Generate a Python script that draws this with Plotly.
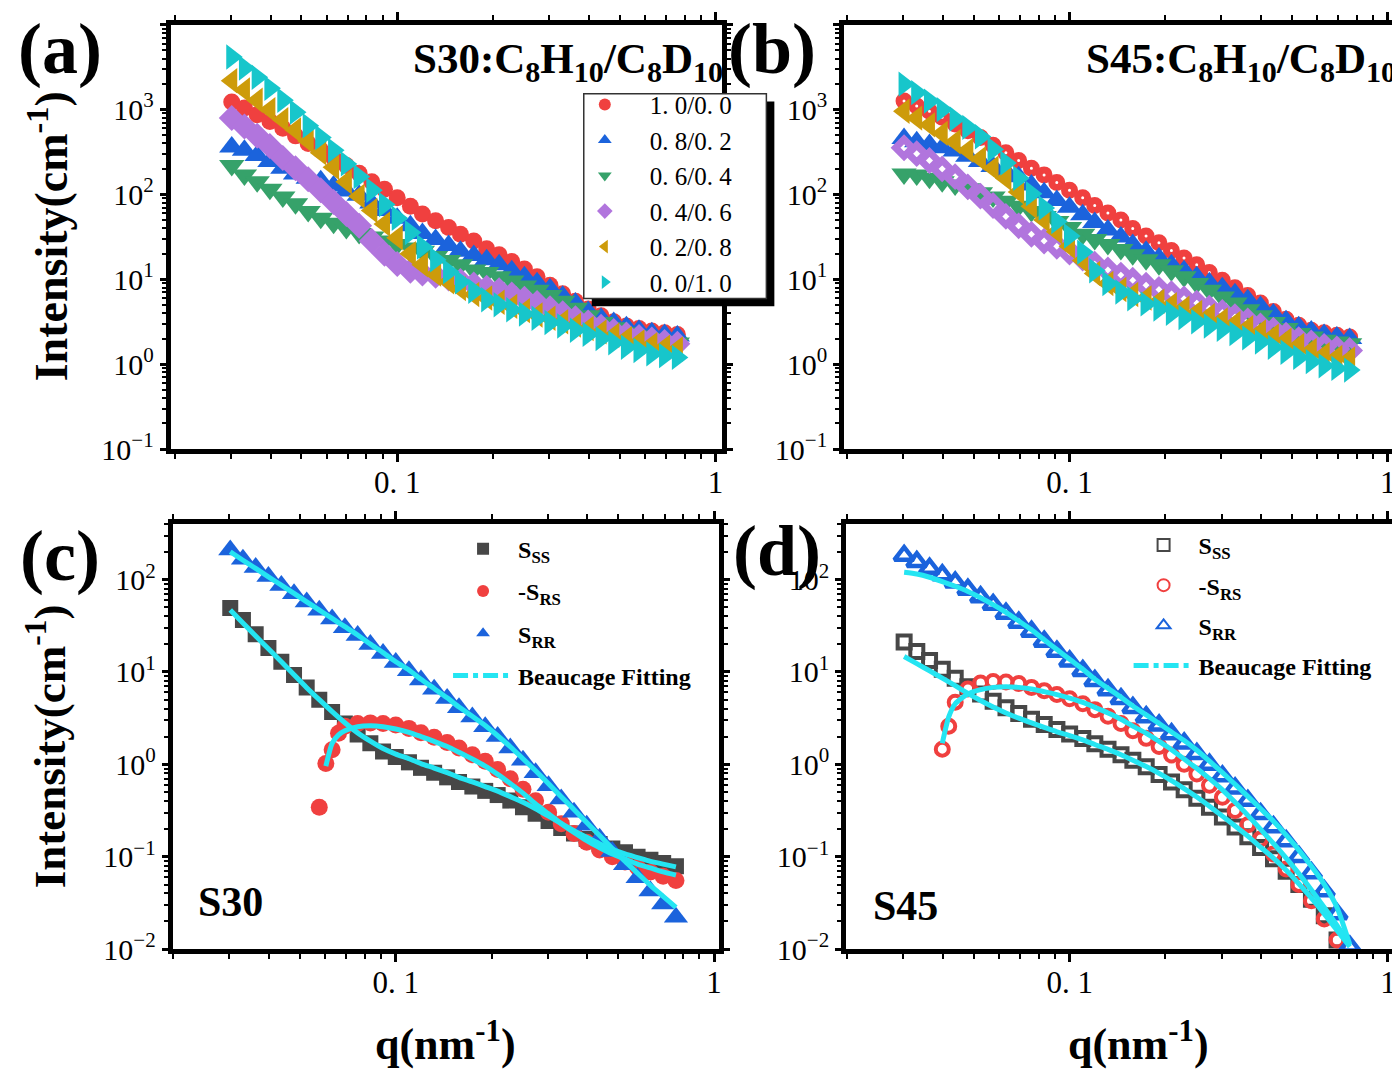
import plotly.graph_objects as go

# ===============================
# 0. DATA
# ===============================
# common q grid, nm^-1
Q = [0.0302, 0.0331, 0.0363, 0.0398, 0.0437, 0.0479, 0.0525, 0.0575, 0.0631, 0.0692,
     0.0759, 0.0832, 0.0912, 0.100, 0.110, 0.120, 0.132, 0.145, 0.158, 0.174,
     0.191, 0.209, 0.229, 0.251, 0.275, 0.302, 0.331, 0.363, 0.398, 0.437,
     0.479, 0.525, 0.575, 0.631, 0.692, 0.759]

RATIOS = ["1. 0/0. 0", "0. 8/0. 2", "0. 6/0. 4", "0. 4/0. 6", "0. 2/0. 8", "0. 0/1. 0"]

# (a) S30, intensity (cm^-1)
A_10_00 = [1230, 1047, 871, 724, 603, 490, 398, 331, 269, 219, 178, 141, 115, 91.2, 72.4, 58.9, 49.0, 40.7,
           33.9, 28.2, 22.9, 19.5, 16.2, 13.2, 10.7, 8.51, 6.76, 5.50, 4.47, 3.72, 3.16, 2.82, 2.63, 2.45, 2.34, 2.24]
A_08_02 = [363, 331, 288, 245, 204, 174, 155, 145, 126, 110, 97.7, 79.4, 64.6, 52.5, 42.7, 34.7, 29.5, 25.1,
           21.4, 19.1, 17.0, 14.8, 12.6, 10.7, 9.12, 7.76, 6.31, 5.25, 4.17, 3.47, 3.09, 2.75, 2.51, 2.34, 2.24, 2.14]
A_06_04 = [219, 170, 141, 115, 93.3, 77.6, 63.1, 52.5, 45.7, 39.8, 34.7, 31.6, 28.2, 25.7, 23.4, 21.4, 18.6, 16.6,
           14.8, 12.9, 12.0, 10.7, 9.55, 8.32, 7.41, 6.46, 5.50, 4.57, 3.72, 3.09, 2.69, 2.34, 2.14, 2.00, 1.86, 1.78]
A_04_06 = [794, 631, 490, 372, 269, 204, 151, 112, 81.3, 58.9, 42.7, 28.2, 20.0, 15.1, 12.6, 11.7, 11.0, 10.2,
           9.55, 8.71, 7.94, 7.41, 6.61, 5.89, 5.25, 4.57, 3.98, 3.47, 3.09, 2.75, 2.45, 2.24, 2.09, 1.95, 1.82, 1.74]
A_02_08 = [2190, 1700, 1290, 1000, 759, 575, 427, 309, 209, 141, 95.5, 64.6, 44.7, 30.9, 20.0, 14.8, 11.5, 9.33,
           7.76, 6.61, 6.03, 5.37, 4.79, 4.27, 3.80, 3.47, 3.16, 2.88, 2.63, 2.40, 2.19, 2.00, 1.82, 1.70, 1.58, 1.51]
A_00_10 = [4170, 3090, 2400, 1780, 1290, 933, 646, 468, 331, 229, 162, 112, 75.9, 52.5, 35.5, 24.0, 17.0, 12.3,
           9.33, 7.24, 5.75, 5.01, 4.37, 3.89, 3.47, 3.09, 2.82, 2.51, 2.24, 2.00, 1.78, 1.58, 1.45, 1.32, 1.26, 1.20]

# (b) S45
B_10_00 = [1260, 1100, 955, 813, 676, 562, 468, 380, 309, 251, 204, 170, 138, 112, 91.2, 74.1, 60.3, 50.1,
           39.8, 32.4, 26.9, 21.9, 17.8, 14.8, 12.0, 9.77, 7.94, 6.46, 5.25, 4.17, 3.39, 2.88, 2.51, 2.34, 2.19, 2.09]
B_08_02 = [457, 417, 389, 355, 324, 282, 245, 214, 186, 162, 129, 105, 85.1, 70.8, 57.5, 46.8, 38.0, 31.6,
           25.7, 21.4, 17.8, 14.8, 12.6, 10.7, 9.12, 7.94, 6.76, 5.75, 4.79, 3.89, 3.24, 2.75, 2.45, 2.24, 2.09, 2.00]
B_06_04 = [174, 170, 155, 141, 129, 117, 105, 93.3, 83.2, 72.4, 63.1, 55.0, 47.9, 40.7, 33.9, 29.5, 25.7, 22.4,
           19.5, 17.0, 14.8, 12.6, 10.7, 8.91, 7.41, 6.17, 5.25, 4.37, 3.72, 3.09, 2.63, 2.29, 2.09, 1.91, 1.82, 1.74]
B_04_06 = [355, 302, 251, 200, 162, 123, 95.5, 74.1, 55.0, 42.7, 33.9, 28.2, 24.5, 20.9, 17.8, 15.1, 12.9, 11.2,
           9.77, 8.51, 7.59, 6.76, 5.89, 5.25, 4.57, 4.07, 3.63, 3.24, 2.82, 2.51, 2.19, 1.95, 1.78, 1.62, 1.51, 1.45]
B_02_08 = [955, 794, 661, 525, 417, 331, 263, 204, 155, 107, 72.4, 50.1, 36.3, 24.5, 16.6, 11.7, 8.91, 7.59,
           6.61, 6.03, 5.50, 5.01, 4.57, 4.07, 3.72, 3.31, 3.02, 2.69, 2.40, 2.14, 1.91, 1.66, 1.45, 1.29, 1.20, 1.15]
B_00_10 = [1995, 1585, 1259, 1000, 776, 617, 479, 339, 234, 155, 102, 69.2, 47.9, 32.4, 20.9, 12.6, 8.91, 7.08,
           5.89, 5.13, 4.47, 3.98, 3.55, 3.16, 2.82, 2.57, 2.29, 2.04, 1.82, 1.58, 1.38, 1.20, 1.07, 0.955, 0.891, 0.851]

# (c) S30 partial structure factors + Beaucage fits
C_SS = [49.4, 36.5, 25.6, 18.2, 12.9, 9.29, 6.81, 4.99, 3.69, 2.77, 2.11, 1.69, 1.38, 1.20, 1.05, 0.916, 0.811, 0.723,
        0.644, 0.575, 0.516, 0.465, 0.405, 0.344, 0.291, 0.243, 0.205, 0.178, 0.155, 0.137, 0.123, 0.112, 0.100,
        0.0927, 0.0853, 0.0787]
C_RR = [209, 166, 135, 108, 86.3, 70.3, 57.3, 46.7, 37.4, 30.2, 24.8, 19.8, 15.8, 12.7, 10.3, 8.17, 6.49, 5.15,
        4.10, 3.26, 2.55, 2.00, 1.50, 1.11, 0.811, 0.585, 0.421, 0.303, 0.219, 0.158, 0.114, 0.0818, 0.0590,
        0.0426, 0.0307, 0.0221]
C_RS_Q = [0.0575, 0.0603, 0.0631, 0.0661, 0.0692, 0.0759, 0.0832, 0.0912, 0.100, 0.110, 0.120, 0.132, 0.145,
          0.158, 0.174, 0.191, 0.209, 0.229, 0.251, 0.275, 0.302, 0.331, 0.363, 0.398, 0.437, 0.479, 0.525,
          0.575, 0.631, 0.692, 0.759]
C_RS = [0.343, 1.02, 1.44, 2.17, 2.59, 2.77, 2.81, 2.77, 2.66, 2.45, 2.20, 1.96, 1.72, 1.50, 1.27, 1.08, 0.879,
        0.700, 0.538, 0.404, 0.303, 0.228, 0.178, 0.143, 0.118, 0.100, 0.0875, 0.0767, 0.0684, 0.0615, 0.0553]
C_SS_FIT = [46.8, 33.9, 24.5, 17.8, 12.9, 9.33, 6.76, 5.01, 3.72, 2.82, 2.19, 1.78, 1.48, 1.29, 1.15, 1.02, 0.912,
            0.813, 0.724, 0.646, 0.575, 0.513, 0.447, 0.389, 0.331, 0.275, 0.229, 0.191, 0.162, 0.138, 0.120,
            0.107, 0.0977, 0.0891, 0.0832, 0.0776]
C_RR_FIT = [200, 162, 132, 107, 87.1, 70.8, 57.5, 46.8, 38.0, 30.9, 25.1, 20.0, 16.2, 12.9, 10.5, 8.32, 6.61, 5.25,
            4.17, 3.31, 2.63, 2.04, 1.55, 1.15, 0.851, 0.617, 0.447, 0.324, 0.234, 0.170, 0.123, 0.0891, 0.0661,
            0.0490, 0.0372, 0.0282]
C_RS_FIT_Q = C_RS_Q[1:]
C_RS_FIT = [0.955, 1.69, 2.08, 2.31, 2.55, 2.61, 2.55, 2.41, 2.22, 2.00, 1.77, 1.56, 1.35, 1.14, 0.955, 0.778,
            0.619, 0.488, 0.372, 0.291, 0.228, 0.183, 0.149, 0.125, 0.107, 0.0942, 0.0832, 0.0755, 0.0684, 0.0631]

# (d) S45 partial structure factors + Beaucage fits
D_SS = [21.1, 16.7, 13.3, 10.7, 8.57, 6.92, 5.78, 4.83, 4.10, 3.54, 3.08, 2.70, 2.39, 2.13, 1.90, 1.67, 1.46, 1.27,
        1.11, 0.940, 0.778, 0.644, 0.530, 0.429, 0.344, 0.269, 0.210, 0.164, 0.126, 0.0948, 0.0695, 0.0501,
        0.0347, 0.0230, 0.0125, 0.0076]
D_RR = [182, 156, 132, 112, 93.5, 78.2, 64.7, 53.6, 43.0, 34.4, 27.4, 21.4, 16.7, 13.1, 10.3, 8.02, 6.38, 5.12,
        4.10, 3.26, 2.65, 2.13, 1.69, 1.30, 0.995, 0.746, 0.552, 0.405, 0.291, 0.210, 0.148, 0.100, 0.0667,
        0.0426, 0.0240, 0.0107]
D_RS_Q = [0.0398, 0.0417, 0.0437, 0.0479, 0.0525, 0.0575, 0.0631, 0.0692, 0.0759, 0.0832, 0.0912, 0.100, 0.110,
          0.120, 0.132, 0.145, 0.158, 0.174, 0.191, 0.209, 0.229, 0.251, 0.275, 0.302, 0.331, 0.363, 0.398,
          0.437, 0.479, 0.525, 0.575, 0.631, 0.692, 0.759]
D_RS = [1.46, 2.59, 4.71, 6.55, 7.6, 7.9, 7.8, 7.5, 6.81, 6.28, 5.69, 5.12, 4.53, 3.91, 3.31, 2.77, 2.31, 1.91,
        1.56, 1.26, 1.00, 0.785, 0.594, 0.439, 0.316, 0.222, 0.155, 0.107, 0.0736, 0.0501, 0.0333, 0.0212,
        0.0125, 0.0070]
D_SS_FIT = [14.7, 12.3, 10.3, 8.57, 7.10, 5.87, 4.91, 4.17, 3.60, 3.16, 2.81, 2.51, 2.25, 2.05, 1.84, 1.64, 1.45,
            1.27, 1.11, 0.946, 0.798, 0.667, 0.547, 0.443, 0.352, 0.275, 0.215, 0.167, 0.127, 0.0964, 0.0713,
            0.0509, 0.0356, 0.0240, 0.0159, 0.0106]
D_RR_FIT = [120, 115, 106, 95.1, 84.7, 74.5, 63.7, 53.6, 44.1, 35.6, 28.6, 22.3, 17.5, 13.7, 10.7, 8.36, 6.65,
            5.33, 4.28, 3.43, 2.77, 2.24, 1.81, 1.42, 1.08, 0.811, 0.608, 0.450, 0.330, 0.242, 0.171, 0.118,
            0.0787, 0.0501, 0.0282, 0.0112]
D_RS_FIT = [1.69, 3.26, 4.53, 5.78, 6.43, 6.81, 6.92, 6.81, 6.55, 6.12, 5.69, 5.20, 4.68, 4.14, 3.60, 3.08, 2.59,
            2.17, 1.77, 1.44, 1.14, 0.902, 0.700, 0.530, 0.388, 0.280, 0.198, 0.139, 0.0964, 0.0656, 0.0437,
            0.0282, 0.0180, 0.0110]

# ===============================
# 1. STYLE
# ===============================
W, H = 1400, 1088
FONT = "Liberation Serif"
RED, BLUE, GREEN, PURPLE, GOLD, CYAN = "#F0403F", "#1B63DC", "#36A26A", "#B175DD", "#CD9B0A", "#17C6CB"
GRAY, FIT = "#474747", "#24E5F2"

COLORS = [RED, BLUE, GREEN, PURPLE, GOLD, CYAN]
SYMBOLS = ["circle", "triangle-up", "triangle-down", "diamond", "triangle-left", "triangle-right"]
SIZES = [17, 22, 22, 20, 22, 22]


def px(x):
    return x / W


def py(y):
    return 1 - y / H


X_MINOR = [m * 10.0 ** e for e in (-2, -1) for m in range(2, 10)]


def sup(e):
    return "10<sup>" + str(e).replace("-", "\u2212") + "</sup>"


def x_axis(dom, rng, anchor):
    return dict(type="log", domain=dom, range=rng, anchor=anchor,
                showline=True, linecolor="black", linewidth=5, mirror="ticks",
                ticks="outside", ticklen=8, tickwidth=3, tickcolor="black",
                tickmode="array", tickvals=[0.1, 1], ticktext=["0. 1", "1"],
                tickfont=dict(family=FONT, size=31, color="black"), ticklabelstandoff=-6,
                minor=dict(tickmode="array", tickvals=X_MINOR, ticks="outside",
                           ticklen=5, tickwidth=2, tickcolor="black"),
                showgrid=False, zeroline=False)


def y_axis(dom, rng, exps, anchor):
    minor = [m * 10.0 ** e for e in range(exps[0], exps[-1] + 1) for m in range(2, 10)]
    return dict(type="log", domain=dom, range=rng, anchor=anchor,
                showline=True, linecolor="black", linewidth=5, mirror="ticks",
                ticks="outside", ticklen=6, tickwidth=3, tickcolor="black",
                tickmode="array", tickvals=[10.0 ** e for e in exps],
                ticktext=[sup(e) for e in exps],
                tickfont=dict(family=FONT, size=30, color="black"), ticklabelstandoff=0,
                minor=dict(tickmode="array", tickvals=minor, ticks="outside",
                           ticklen=4, tickwidth=2, tickcolor="black"),
                showgrid=False, zeroline=False)


# ===============================
# 2. FIGURE
# ===============================
fig = go.Figure()

# (a) and (b): six H/D ratios
for i, ys in enumerate([A_10_00, A_08_02, A_06_04, A_04_06, A_02_08, A_00_10]):
    fig.add_trace(go.Scatter(
        x=Q, y=ys, mode="markers", name=RATIOS[i], xaxis="x", yaxis="y", legend="legend",
        marker=dict(symbol=SYMBOLS[i], size=SIZES[i], color=COLORS[i], line=dict(width=0))
    ))

B_OPEN = {0: "circle-open", 3: "diamond-open"}
for i, ys in enumerate([B_10_00, B_08_02, B_06_04, B_04_06, B_02_08, B_00_10]):
    if i in B_OPEN:
        mk = dict(symbol=B_OPEN[i], size=SIZES[i] - 7, color=COLORS[i], line=dict(width=7, color=COLORS[i]))
    else:
        mk = dict(symbol=SYMBOLS[i], size=SIZES[i], color=COLORS[i], line=dict(width=0))
    fig.add_trace(go.Scatter(x=Q, y=ys, mode="markers", name=RATIOS[i], xaxis="x2", yaxis="y2",
                             showlegend=False, marker=mk))


def add_partials(xa, ya, leg, ss, rs_q, rs, rr, fits, open_sym):
    if open_sym:
        specs = [(Q, ss, "S<sub>SS</sub>", "square-open", GRAY, 13, 4),
                 (rs_q, rs, "-S<sub>RS</sub>", "circle-open", RED, 13, 4),
                 (Q, rr, "S<sub>RR</sub>", "triangle-up-open", BLUE, 17, 4.5)]
    else:
        specs = [(Q, ss, "S<sub>SS</sub>", "square", GRAY, 16, 0),
                 (rs_q, rs, "-S<sub>RS</sub>", "circle", RED, 17, 0),
                 (Q, rr, "S<sub>RR</sub>", "triangle-up", BLUE, 21, 0)]
    for k, (xs, ys, nm, sym, col, sz, lw) in enumerate(specs):
        fig.add_trace(go.Scatter(
            x=xs, y=ys, mode="markers", name=nm, xaxis=xa, yaxis=ya, legend=leg, legendgroup=leg + str(k),
            marker=dict(symbol=sym, size=sz, color=col, line=dict(width=lw, color=col))
        ))
    for xs, ys in fits:
        fig.add_trace(go.Scatter(x=xs, y=ys, mode="lines", xaxis=xa, yaxis=ya, showlegend=False,
                                 line=dict(color=FIT, width=5, shape="spline", smoothing=0.6)))
    # legend entry only, the fitted curves are drawn above
    fig.add_trace(go.Scatter(x=[None], y=[None], mode="lines", name="Beaucage Fitting", xaxis=xa, yaxis=ya,
                             legend=leg, legendgroup=leg + "fit",
                             line=dict(color=FIT, width=5, dash="dashdot")))


add_partials("x3", "y3", "legend2", C_SS, C_RS_Q, C_RS, C_RR,
             [(Q, C_SS_FIT), (C_RS_FIT_Q, C_RS_FIT), (Q, C_RR_FIT)], False)
add_partials("x4", "y4", "legend3", D_SS, D_RS_Q, D_RS, D_RR,
             [(Q, D_SS_FIT), (D_RS_Q, D_RS_FIT), (Q, D_RR_FIT)], True)

# ===============================
# 3. LAYOUT
# ===============================
TOP = [py(448), py(17)]
BOT = [py(956), py(524)]

legend_font_a = dict(family=FONT, size=25, color="black")
legend_font_cd = dict(family=FONT, size=24, color="black", weight="bold")

fig.update_layout(
    width=W, height=H, autosize=False,
    margin=dict(l=0, r=0, t=0, b=0),
    paper_bgcolor="white", plot_bgcolor="white",
    xaxis=x_axis([px(163), px(716)], [-1.712, 0.022], "y"),
    yaxis=y_axis(TOP, [-1, 4], [-1, 0, 1, 2, 3, 4], "x"),
    xaxis2=x_axis([px(838), px(1391)], [-1.708, 0.026], "y2"),
    yaxis2=y_axis(TOP, [-1, 4], [-1, 0, 1, 2, 3, 4], "x2"),
    xaxis3=x_axis([px(165), px(713)], [-1.701, 0.017], "y3"),
    yaxis3=y_axis(BOT, [-2, 2.604], [-2, -1, 0, 1, 2], "x3"),
    xaxis4=x_axis([px(840), px(1388)], [-1.702, 0.016], "y4"),
    yaxis4=y_axis(BOT, [-2, 2.604], [-2, -1, 0, 1, 2], "x4"),
    legend=dict(x=px(553), y=py(75), xanchor="left", yanchor="top", bgcolor="rgba(0,0,0,0)",
                borderwidth=0, font=legend_font_a, itemwidth=80, itemsizing="constant", tracegroupgap=0),
    legend2=dict(x=px(441), y=py(527), xanchor="left", yanchor="top", bgcolor="rgba(0,0,0,0)",
                 borderwidth=0, font=legend_font_cd, itemwidth=60, itemsizing="constant", tracegroupgap=8),
    legend3=dict(x=px(1123), y=py(523), xanchor="left", yanchor="top", bgcolor="rgba(0,0,0,0)",
                 borderwidth=0, font=legend_font_cd, itemwidth=60, itemsizing="constant", tracegroupgap=6),
    showlegend=True,
)

# legend frame of (a) with its drop shadow
fig.add_shape(type="rect", xref="paper", yref="paper", layer="above",
              x0=px(585), x1=px(768), y0=py(303), y1=py(95), fillcolor="black", line=dict(width=0))
fig.add_shape(type="rect", xref="paper", yref="paper", layer="above",
              x0=px(577), x1=px(760), y0=py(295), y1=py(87), fillcolor="white",
              line=dict(color="#333333", width=1.5))

BOLD = dict(family=FONT, color="black")
notes = [
    ("<b>(a)</b>", 52, 42, 72, "center", 0),
    ("<b>(b)</b>", 766, 42, 72, "center", 0),
    ("<b>(c)</b>", 52, 557, 72, "center", 0),
    ("<b>(d)</b>", 771, 552, 72, "center", 0),
    ("<b>S30:C<sub>8</sub>H<sub>10</sub>/C<sub>8</sub>D<sub>10</sub></b>", 719, 55, 43, "right", 0),
    ("<b>S45:C<sub>8</sub>H<sub>10</sub>/C<sub>8</sub>D<sub>10</sub></b>", 1393, 55, 43, "right", 0),
    ("<b>S30</b>", 223, 908, 42, "center", 0),
    ("<b>S45</b>", 899, 912, 42, "center", 0),
    ("<b>Intensity(cm<sup>-1</sup>)</b>", 40, 232, 46, "center", -90),
    ("<b>Intensity(cm<sup>-1</sup>)</b>", 38, 750, 45, "center", -90),
    ("<b>q(nm<sup>-1</sup>)</b>", 438, 1050, 44, "center", 0),
    ("<b>q(nm<sup>-1</sup>)</b>", 1133, 1050, 44, "center", 0),
]
for txt, x, y, size, anchor, ang in notes:
    fig.add_annotation(text=txt, xref="paper", yref="paper", x=px(x), y=py(y),
                       xanchor=anchor, yanchor="middle", showarrow=False, textangle=ang,
                       font=dict(size=size, **BOLD))

fig.write_html("out.html")
